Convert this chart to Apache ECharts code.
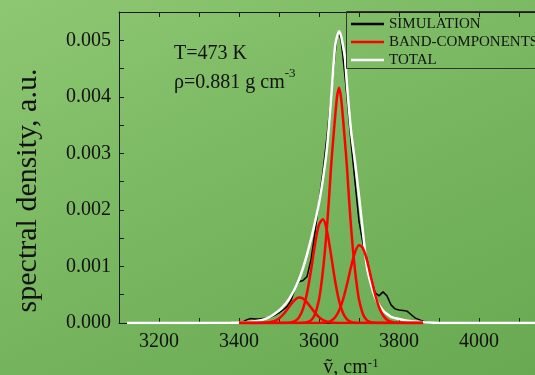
<!DOCTYPE html>
<html>
<head>
<meta charset="utf-8">
<script src="https://cdn.jsdelivr.net/npm/echarts@6/dist/echarts.min.js"></script>
<style>
  html, body { margin: 0; padding: 0; }
  #chart {
    width: 535px; height: 375px;
    background: linear-gradient(155deg, #8ec772 0%, #7ab862 45%, #68a951 100%);
  }
</style>
</head>
<body>
<div id="chart"></div>
<script>
// Wavenumber (cm^-1) / spectral density pairs
const simulation = [
  [3400,0],[3410,0.00002],[3420,0.00006],[3430,0.00008],[3440,0.00007],[3450,0.00007],
  [3460,0.00008],[3470,0.00009],[3480,0.00011],[3490,0.00014],[3500,0.00018],[3510,0.00023],
  [3520,0.00029],[3530,0.0004],[3540,0.0006],[3550,0.00073],[3560,0.00075],[3570,0.00082],
  [3580,0.00112],[3590,0.0016],[3600,0.00215],[3610,0.00268],[3620,0.0033],[3630,0.004],
  [3640,0.00475],[3645,0.00505],[3650,0.00512],[3655,0.005],[3660,0.0047],[3670,0.004],
  [3680,0.0032],[3690,0.0025],[3700,0.0018],[3710,0.0014],[3720,0.00113],[3730,0.0008],
  [3740,0.00054],[3750,0.00048],[3760,0.00055],[3770,0.00048],[3780,0.00032],[3790,0.00025],
  [3800,0.00023],[3810,0.00022],[3820,0.00021],[3830,0.00015],[3840,0.00009],[3850,0.00006],
  [3860,0.00003],[3870,0.00001],[3880,0]
];

const band1 = [
  [3400,0],[3440,0],[3450,0.0000006],[3460,0.000002],[3470,0.0000062],[3480,0.0000165],
  [3490,0.0000387],[3500,0.0000802],[3510,0.000146],[3520,0.000234],[3530,0.000331],
  [3540,0.000411],[3550,0.000449],[3560,0.000432],[3570,0.000366],[3580,0.000273],
  [3590,0.000179],[3600,0.000104],[3610,0.0000527],[3620,0.0000236],[3630,0.0000093],
  [3640,0.0000032],[3650,0.000001],[3660,0.0000003],[3670,0],[3860,0]
];

const band2 = [
  [3400,0],[3500,0.0000001],[3510,0.0000004],[3520,0.0000022],[3530,0.0000094],
  [3540,0.0000333],[3550,0.0000992],[3560,0.000249],[3570,0.000525],[3580,0.000932],
  [3590,0.001389],[3600,0.00174],[3610,0.001834],[3620,0.001624],[3630,0.001209],
  [3640,0.000757],[3650,0.000398],[3660,0.000176],[3670,0.0000654],[3680,0.0000204],
  [3690,0.0000054],[3700,0.0000012],[3710,0.0000002],[3720,0],[3860,0]
];

const band3 = [
  [3400,0],[3550,0],[3560,0.0000029],[3570,0.0000125],[3580,0.0000458],[3590,0.000154],
  [3600,0.000416],[3605,0.000645],[3610,0.000936],[3615,0.00129],[3620,0.00171],
  [3625,0.0022],[3630,0.00275],[3635,0.0032],[3640,0.00362],[3645,0.00399],[3650,0.00416],
  [3655,0.00399],[3660,0.00362],[3665,0.0032],[3670,0.00275],[3675,0.0022],[3680,0.00171],
  [3685,0.00129],[3690,0.000936],[3695,0.000645],[3700,0.000416],[3710,0.000154],
  [3720,0.0000458],[3730,0.0000125],[3740,0.0000029],[3750,0],[3860,0]
];

const band4 = [
  [3400,0],[3580,0],[3590,0.0000003],[3600,0.0000011],[3610,0.0000042],[3620,0.0000137],
  [3630,0.0000394],[3640,0.0000988],[3650,0.000216],[3660,0.000412],[3670,0.000684],
  [3680,0.00099],[3690,0.00125],[3700,0.001376],[3710,0.001321],[3720,0.001105],
  [3730,0.000806],[3740,0.000513],[3750,0.000284],[3760,0.000137],[3770,0.000058],
  [3780,0.0000213],[3790,0.0000068],[3800,0.0000019],[3810,0.0000005],[3820,0],[3860,0]
];

const total = [
  [3120,0],[3380,0.000005],[3420,0.000015],[3440,0.00003],[3460,0.00006],[3480,0.00012],
  [3500,0.00022],[3510,0.00029],[3520,0.00037],[3530,0.00048],[3540,0.00061],[3550,0.00077],
  [3560,0.00097],[3570,0.00121],[3580,0.00148],[3590,0.00178],[3600,0.00212],[3610,0.00255],
  [3620,0.0031],[3630,0.00395],[3640,0.00488],[3645,0.00506],[3650,0.00516],[3655,0.00508],
  [3660,0.0049],[3665,0.00468],[3670,0.0042],[3680,0.0034],[3690,0.00285],[3700,0.00225],
  [3710,0.0016],[3720,0.00098],[3730,0.00068],[3740,0.00046],[3750,0.00032],[3760,0.00022],
  [3770,0.00016],[3780,0.00011],[3800,0.00007],[3830,0.00003],[3870,0.000008],[3900,0],[4140,0]
];

const xTickLabels = [3200, 3400, 3600, 3800, 4000];
const yTickLabels = [0, 0.001, 0.002, 0.003, 0.004, 0.005];

const SERIF = '"Liberation Serif", "Times New Roman", "DejaVu Serif", serif';
const INK = '#111';

function isLabelled(list, v) {
  return list.some(t => Math.abs(t - v) < 1e-9);
}

const frameLine = { lineStyle: { color: '#1a1a1a', width: 1 } };
const tickIn = { inside: true, length: 5, lineStyle: { color: '#1a1a1a', width: 1 } };

function bandSeries(data) {
  return {
    name: 'BAND-COMPONENTS', type: 'line', data,
    showSymbol: false, symbol: 'none', smooth: 0.3, z: 4,
    itemStyle: { color: '#ff0000' }, lineStyle: { color: '#ff0000', width: 2.5 }
  };
}

const chart = echarts.init(document.getElementById('chart'), null, { renderer: 'canvas' });

chart.setOption({
  animation: false,
  backgroundColor: 'transparent',
  grid: {
    left: 119, top: 12, right: 0, height: 311,
    containLabel: false, outerBoundsMode: 'none'
  },
  legend: {
    orient: 'vertical',
    left: 346, top: 11.5,
    padding: [5, 5, 3, 5],
    itemGap: 3,
    icon: 'rect',
    itemWidth: 33, itemHeight: 2.5,
    textStyle: { fontFamily: SERIF, fontSize: 15, color: INK, lineHeight: 14 },
    data: ['SIMULATION', 'BAND-COMPONENTS', 'TOTAL']
  },
  xAxis: [{
    type: 'value', min: 3100, max: 4140, interval: 100,
    axisLine: frameLine, axisTick: tickIn, splitLine: { show: false },
    axisLabel: {
      fontFamily: SERIF, fontSize: 20, color: INK, margin: 9,
      formatter: v => isLabelled(xTickLabels, v) ? String(v) : ''
    },
    name: '{n|\u1E7D, cm}{s|-1}',
    nameLocation: 'middle', nameGap: 31,
    nameTextStyle: {
      padding: [0, 0, 0, 48],
      rich: {
        n: { fontFamily: SERIF, fontSize: 20, color: INK, lineHeight: 22 },
        s: { fontFamily: SERIF, fontSize: 13, color: INK, verticalAlign: 'top', lineHeight: 13 }
      }
    }
  }, {
    type: 'value', position: 'top', min: 3100, max: 4140, interval: 100,
    axisLine: frameLine, axisTick: tickIn,
    axisLabel: { show: false }, splitLine: { show: false }
  }],
  yAxis: [{
    type: 'value', min: 0, max: 0.0055, interval: 0.0005,
    axisLine: { show: true, ...frameLine }, axisTick: tickIn, splitLine: { show: false },
    axisLabel: {
      fontFamily: SERIF, fontSize: 20, color: INK, margin: 8,
      formatter: v => isLabelled(yTickLabels, v) ? v.toFixed(3) : ''
    },
    name: 'spectral density, a.u.',
    nameLocation: 'middle', nameGap: 76,
    nameTextStyle: { fontFamily: SERIF, fontSize: 30, color: INK, padding: [0, 46, 0, 0] }
  }],
  graphic: [{
    // legend frame, running off the right edge
    type: 'rect', silent: true, z: 5,
    shape: { x: 346.5, y: 11.5, width: 240, height: 57 },
    style: { fill: 'none', stroke: '#333', lineWidth: 1 }
  }, {
    type: 'text', left: 174, top: 44,
    style: { text: 'T=473 K', font: '20px ' + SERIF, fill: INK }
  }, {
    type: 'text', left: 174, top: 67,
    style: {
      text: '{n|\u03C1=0.881 g cm}{s|-3}',
      rich: {
        n: { fontFamily: SERIF, fontSize: 20, fill: INK, lineHeight: 26, verticalAlign: 'bottom' },
        s: { fontFamily: SERIF, fontSize: 13, fill: INK, lineHeight: 13, verticalAlign: 'top' }
      }
    }
  }],
  series: [{
    name: 'SIMULATION', type: 'line', data: simulation,
    showSymbol: false, symbol: 'none', z: 2,
    itemStyle: { color: '#000' }, lineStyle: { color: '#000', width: 1.5 }
  },
  bandSeries(band1), bandSeries(band2), bandSeries(band3), bandSeries(band4),
  {
    name: 'TOTAL', type: 'line', data: total,
    showSymbol: false, symbol: 'none', smooth: 0.3, z: 3,
    itemStyle: { color: '#fff' }, lineStyle: { color: '#fff', width: 2.5 }
  }]
});
</script>
</body>
</html>
